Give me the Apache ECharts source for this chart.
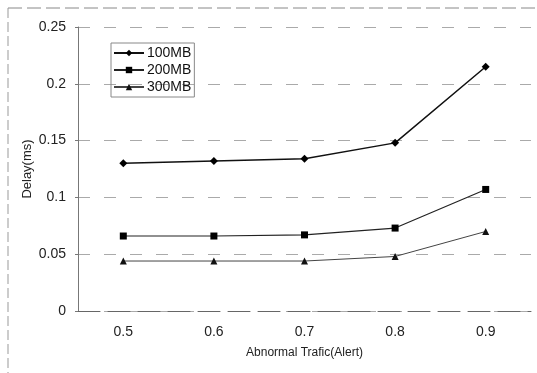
<!DOCTYPE html>
<html>
<head>
<meta charset="utf-8">
<script src="https://cdn.jsdelivr.net/npm/echarts@6/dist/echarts.min.js"></script>
<style>
  html, body { margin: 0; padding: 0; background: #fff; }
  #chart { width: 537px; height: 373px; }
</style>
</head>
<body>
<div id="chart"></div>
<script>
// values
var categories = ['0.5', '0.6', '0.7', '0.8', '0.9'];
var delay100 = [0.130, 0.132, 0.134, 0.148, 0.215];
var delay200 = [0.066, 0.066, 0.067, 0.073, 0.107];
var delay300 = [0.044, 0.044, 0.044, 0.048, 0.070];
var seriesNames = ['100MB', '200MB', '300MB'];

var font = 'Liberation Sans, Arial, sans-serif';
var myChart = echarts.init(document.getElementById('chart'));

var option = {
  backgroundColor: '#fff',
  animation: false,
  grid: { left: 78, top: 27, right: 6, bottom: 62 },
  // rough outer frame of the scanned figure (left + top only)
  graphic: [
    { type: 'line', shape: { x1: 8, y1: 8, x2: 537, y2: 8 },
      style: { stroke: '#888', lineWidth: 1, lineDash: [14, 5] } },
    { type: 'line', shape: { x1: 8, y1: 8, x2: 8, y2: 373 },
      style: { stroke: '#999', lineWidth: 1, lineDash: [10, 4] } }
  ],
  legend: {
    orient: 'vertical',
    left: 111, top: 43,
    itemWidth: 30, itemHeight: 8, itemGap: 3,
    padding: [3, 3, 3, 2],
    borderColor: '#888', borderWidth: 1,
    textStyle: { fontFamily: font, fontSize: 14, color: '#111', padding: [0, 0, 0, -2] },
    data: seriesNames
  },
  xAxis: {
    type: 'category',
    data: categories,
    boundaryGap: true,
    name: 'Abnormal Trafic(Alert)',
    nameLocation: 'middle',
    nameGap: 36,
    nameMoveOverlap: false,
    nameTextStyle: { fontFamily: 'Liberation Sans Narrow, ' + font, fontSize: 12, color: '#222' },
    axisLine: { lineStyle: { color: '#666', width: 1, type: [22, 8] } },
    axisTick: { show: false },
    axisLabel: { fontFamily: font, fontSize: 14, color: '#222', margin: 14 }
  },
  yAxis: {
    type: 'value',
    min: 0, max: 0.25, interval: 0.05,
    name: 'Delay(ms)',
    nameLocation: 'middle',
    nameGap: 44,
    nameMoveOverlap: false,
    nameTextStyle: { fontFamily: font, fontSize: 13, color: '#222' },
    axisLine: { show: true, lineStyle: { color: '#777', width: 1 } },
    axisTick: { show: true, inside: false, length: 3, lineStyle: { color: '#777' } },
    axisLabel: { fontFamily: font, fontSize: 14, color: '#222', margin: 12 },
    splitLine: { show: true, lineStyle: { color: '#aaa', width: 1, type: [12, 14] } }
  },
  series: [
    { name: '100MB', type: 'line', data: delay100, symbol: 'diamond', symbolSize: 8,
      itemStyle: { color: '#000' }, lineStyle: { color: '#111', width: 1.5 } },
    { name: '200MB', type: 'line', data: delay200, symbol: 'rect', symbolSize: 7,
      itemStyle: { color: '#000' }, lineStyle: { color: '#222', width: 1.2 } },
    { name: '300MB', type: 'line', data: delay300, symbol: 'triangle', symbolSize: 7,
      itemStyle: { color: '#111' }, lineStyle: { color: '#444', width: 1 } }
  ]
};
myChart.setOption(option);
</script>
</body>
</html>
